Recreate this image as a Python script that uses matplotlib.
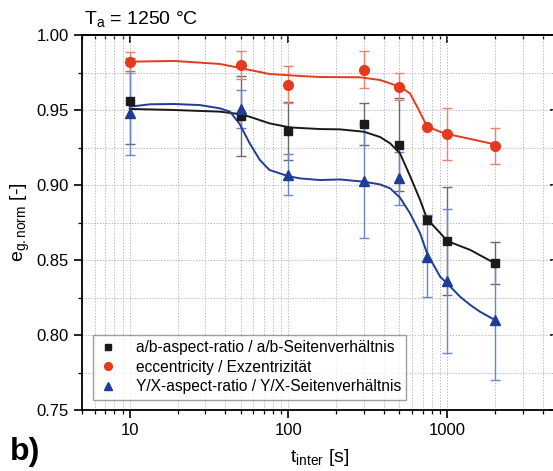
import matplotlib
matplotlib.use("Agg")
import matplotlib.pyplot as plt
from matplotlib.ticker import FixedLocator, LogLocator, MultipleLocator, NullFormatter

plt.rcParams["font.family"] = ["Liberation Sans", "DejaVu Sans"]
plt.rcParams["mathtext.fontset"] = "custom"
plt.rcParams["mathtext.rm"] = "Liberation Sans"
plt.rcParams["mathtext.it"] = "Liberation Sans:italic"

# measured points
t_meas = [10, 50, 100, 300, 500, 750, 1000, 2000]
ab_val = [0.956, 0.946, 0.936, 0.941, 0.927, 0.877, 0.863, 0.848]
ab_err = [0.0285, 0.0265, 0.0195, 0.014, 0.031, 0.003, 0.036, 0.014]
ecc_val = [0.982, 0.980, 0.967, 0.977, 0.9655, 0.939, 0.934, 0.926]
ecc_err = [0.007, 0.0093, 0.0122, 0.0123, 0.009, 0.0, 0.0175, 0.012]
yx_val = [0.948, 0.9507, 0.907, 0.9027, 0.9045, 0.8522, 0.836, 0.810]
yx_err = [0.028, 0.0125, 0.0135, 0.038, 0.0175, 0.027, 0.048, 0.040]

# fitted curves
ecc_fit_t = [10, 19, 37, 57, 76, 118, 158, 282, 378, 505, 584, 656, 748, 904, 1000, 1400, 2000]
ecc_fit_y = [0.9822, 0.9827, 0.9807, 0.9767, 0.974, 0.9727, 0.972, 0.9718, 0.970,
             0.9655, 0.961, 0.951, 0.939, 0.9355, 0.934, 0.9307, 0.9271]
ab_fit_t = [10, 19, 37, 49, 57, 76, 102, 158, 211, 299, 378, 437, 505, 584, 676, 748,
            904, 1000, 1400, 2000]
ab_fit_y = [0.9507, 0.950, 0.9489, 0.9473, 0.9455, 0.9411, 0.9384, 0.9373, 0.9371,
            0.9355, 0.932, 0.9278, 0.9211, 0.906, 0.89, 0.8773, 0.868, 0.8627, 0.8567,
            0.8478]
yx_fit_t = [10, 13.4, 19, 27.6, 37, 42.8, 49, 57, 66, 76, 99, 118, 158, 211, 299, 378,
            437, 505, 584, 676, 748, 904, 1000, 1208, 1400, 1614, 2000]
yx_fit_y = [0.9522, 0.9538, 0.954, 0.9533, 0.9511, 0.9489, 0.9411, 0.9278, 0.9167,
            0.910, 0.906, 0.9044, 0.9033, 0.9037, 0.9022, 0.9004, 0.8978, 0.8916,
            0.8811, 0.8678, 0.8544, 0.8389, 0.8344, 0.8255, 0.820, 0.8155, 0.810]

red = "#e63a1e"
blue = "#1f3c96"
black = "#1a1a1a"

fig = plt.figure(figsize=(5.53, 4.71), dpi=100)
ax = fig.add_axes([82 / 553, 61 / 471, 476 / 553, 375 / 471])

series = [
  (ab_fit_t, ab_fit_y, ab_val, ab_err, black, "#6a6a6a", "s", 6,
   "a/b-aspect-ratio / a/b-Seitenverhältnis"),
  (ecc_fit_t, ecc_fit_y, ecc_val, ecc_err, red, "#f0806a", "o", 7,
   "eccentricity / Exzentrizität"),
  (yx_fit_t, yx_fit_y, yx_val, yx_err, blue, "#6a86cc", "^", 7.5,
   "Y/X-aspect-ratio / Y/X-Seitenverhältnis"),
]
handles = []
for fit_t, fit_y, val, err, col, ecol, mk, ms, label in series:
  ax.errorbar(t_meas, val, yerr=err, fmt="none", ecolor=ecol, elinewidth=1.0,
              capsize=3.5, capthick=1.0, zorder=2)
  ax.plot(fit_t, fit_y, color=col, linewidth=1.4, zorder=3)
  h, = ax.plot(t_meas, val, linestyle="none", marker=mk, markersize=ms, color=col,
               markeredgecolor=col, zorder=4, label=label)
  handles.append(h)

ax.set_xscale("log")
ax.set_xlim(5, 5000)
ax.set_ylim(0.75, 1.00)
ax.yaxis.set_major_locator(MultipleLocator(0.05))
ax.yaxis.set_minor_locator(MultipleLocator(0.025))
ax.yaxis.set_major_formatter(matplotlib.ticker.FormatStrFormatter("%.2f"))
ax.xaxis.set_major_locator(FixedLocator([10, 100, 1000]))
ax.xaxis.set_major_formatter(matplotlib.ticker.FixedFormatter(["10", "100", "1000"]))
ax.xaxis.set_minor_locator(LogLocator(base=10, subs=range(2, 10), numticks=20))
ax.xaxis.set_minor_formatter(NullFormatter())

ax.grid(which="both", color="#a8a8a8", linestyle=(0, (1.5, 2)), linewidth=0.6)
ax.set_axisbelow(True)
for side in ["left", "bottom", "top", "right"]:
  ax.spines[side].set_linewidth(1.3)
ax.tick_params(axis="both", which="major", labelsize=12, width=1.2)
ax.tick_params(axis="x", which="major", direction="out", length=6)
ax.tick_params(axis="x", which="minor", direction="out", length=3, width=0.9)
ax.tick_params(axis="y", which="major", direction="out", length=6)
ax.tick_params(axis="y", which="minor", direction="out", length=3, width=0.9)

# inward ticks on the top and right frame
top = ax.secondary_xaxis("top")
top.set_xticks([10, 100, 1000])
top.xaxis.set_minor_locator(LogLocator(base=10, subs=range(2, 10), numticks=20))
top.tick_params(which="major", direction="in", length=6, width=1.2, labeltop=False)
top.tick_params(which="minor", direction="in", length=3, width=0.9)
top.xaxis.set_minor_formatter(NullFormatter())
top.spines["top"].set_linewidth(1.3)
right = ax.secondary_yaxis("right")
right.yaxis.set_major_locator(MultipleLocator(0.05))
right.yaxis.set_minor_locator(MultipleLocator(0.025))
right.tick_params(which="major", direction="in", length=6, width=1.2, labelright=False)
right.tick_params(which="minor", direction="in", length=3, width=0.9)

ax.set_xlabel(r"t$_\mathrm{inter}$ [s]", fontsize=14, labelpad=6)
ax.set_ylabel(r"e$_\mathrm{g.norm}$ [-]", fontsize=14, labelpad=3)

leg = ax.legend(handles=handles, loc="lower left", bbox_to_anchor=(0.023, 0.027),
                borderaxespad=0, fontsize=11.2, frameon=True, fancybox=False,
                edgecolor="#888888", handlelength=1.2, handletextpad=1.2,
                labelspacing=0.3, borderpad=0.35, markerscale=0.8)
leg.get_frame().set_linewidth(1.0)

fig.text(84 / 553, 1 - 24 / 471, r"T$_\mathrm{a}$ = 1250 °C", fontsize=14,
         va="baseline", ha="left")
fig.text(10 / 553, 1 - 460 / 471, "b)", fontsize=23, fontweight="bold",
         va="baseline", ha="left")

fig.savefig("out.png", dpi=100)
